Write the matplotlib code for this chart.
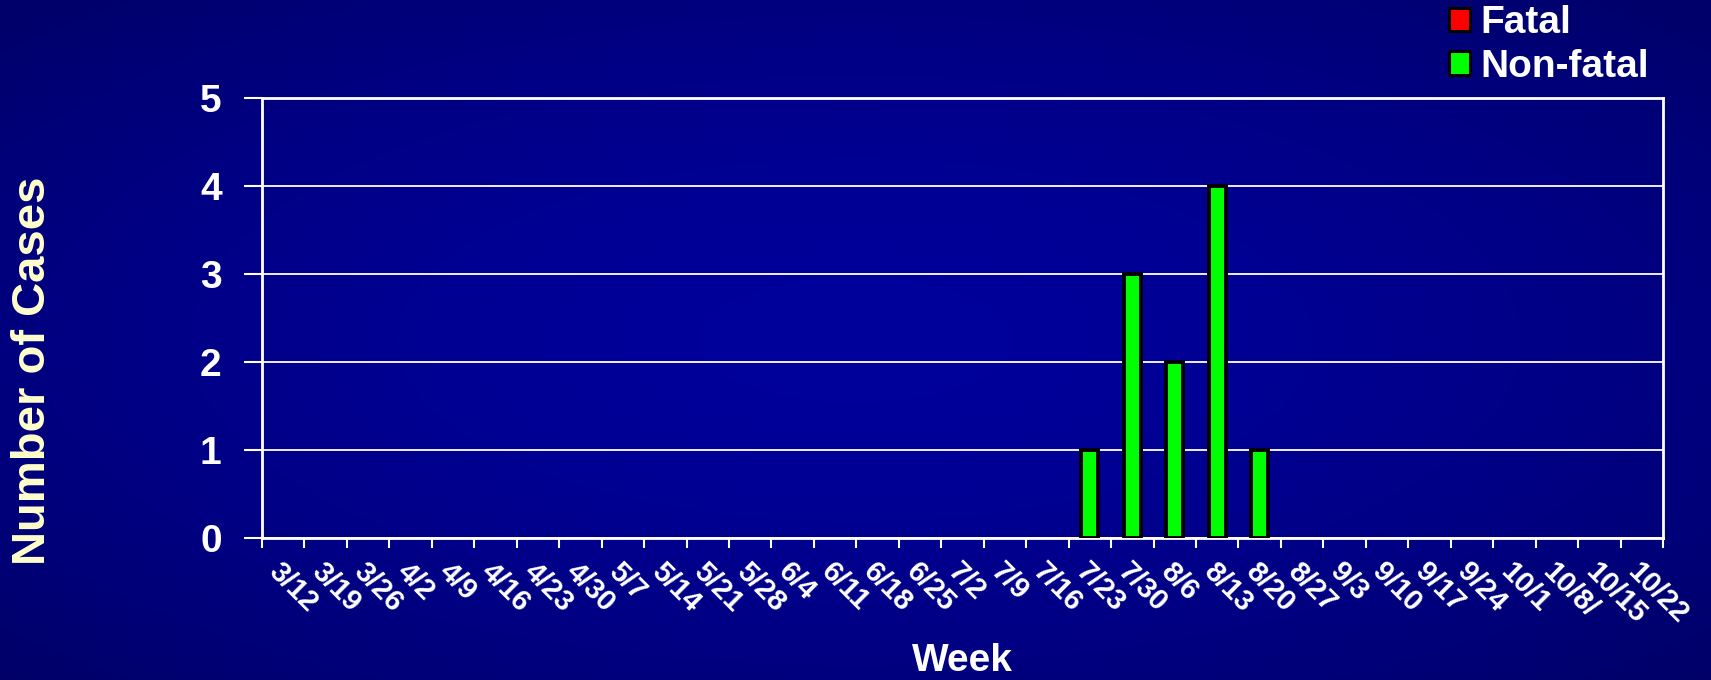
import matplotlib.pyplot as plt
import numpy as np
from matplotlib.patches import Patch

plt.rcParams['font.family'] = ['Liberation Sans', 'DejaVu Sans']
plt.rcParams['font.weight'] = 'bold'

TEXT_COLOR = "white"
YLABEL_COLOR = "#FFFFCC"
FATAL_COLOR = "#FF0000"
NONFATAL_COLOR = "#00FF00"

weeks = ["3/12", "3/19", "3/26", "4/2", "4/9", "4/16", "4/23", "4/30", "5/7",
         "5/14", "5/21", "5/28", "6/4", "6/11", "6/18", "6/25", "7/2", "7/9",
         "7/16", "7/23", "7/30", "8/6", "8/13", "8/20", "8/27", "9/3", "9/10",
         "9/17", "9/24", "10/1", "10/8/", "10/15", "10/22"]
non_fatal = [0, 0, 0, 0, 0, 0, 0, 0, 0, 0, 0, 0, 0, 0, 0, 0, 0, 0,
             0, 1, 3, 2, 4, 1, 0, 0, 0, 0, 0, 0, 0, 0, 0]
fatal = [0] * len(weeks)
y_ticks = [0, 1, 2, 3, 4, 5]


def background(fig):
    # radial blue gradient behind everything
    bg = fig.add_axes([0, 0, 1, 1], zorder=-10)
    yy, xx = np.mgrid[-1:1:340j, -1:1:860j]
    r = np.clip(np.sqrt(xx ** 2 + yy ** 2) / 1.414, 0, 1)
    blue = (0x9C - (0x9C - 0x68) * r ** 1.6) / 255.0
    img = np.zeros(r.shape + (3,))
    img[..., 2] = blue
    bg.imshow(img, aspect='auto', extent=(0, 1, 0, 1))
    bg.axis('off')


def plot():
    fig = plt.figure(figsize=(17.11, 6.8), dpi=100)
    background(fig)

    ax = fig.add_axes([262 / 1711, 1 - 538 / 680, 1401 / 1711, 440 / 680])
    ax.patch.set_alpha(0)

    x = np.arange(len(weeks))
    nf = np.array(non_fatal)
    fa = np.array(fatal)
    # empty weeks get no bar at all (no black outline on the axis)
    show = nf > 0
    ax.bar(x[show], nf[show], width=0.4, color=NONFATAL_COLOR,
           edgecolor="black", linewidth=2.8, zorder=3)
    show = fa > 0
    ax.bar(x[show], fa[show], bottom=nf[show], width=0.4, color=FATAL_COLOR,
           edgecolor="black", linewidth=2.8, zorder=3)

    ax.set_xlim(-0.5, len(weeks) - 0.5)
    ax.set_ylim(0, 5)
    ax.set_yticks(y_ticks)
    ax.set_yticklabels([str(v) for v in y_ticks], fontsize=28,
                       fontweight='bold', color=TEXT_COLOR)
    ax.yaxis.grid(True, color="white", linewidth=1.3)
    ax.set_axisbelow(True)

    ax.set_xticks(x)
    ax.set_xticklabels(weeks, rotation=-45, ha='left', va='top',
                       rotation_mode='anchor', fontsize=21,
                       fontweight='bold', color=TEXT_COLOR)
    ax.set_xticks(np.arange(len(weeks) + 1) - 0.5, minor=True)
    ax.tick_params(axis='x', which='major', length=0, pad=14)
    ax.tick_params(axis='x', which='minor', length=7, width=1.5,
                   color="white", direction='out')
    ax.tick_params(axis='y', length=13, width=1.5, color="white",
                   direction='out', pad=16)

    for side in ax.spines:
        ax.spines[side].set_color("white")
        ax.spines[side].set_linewidth(2)

    fig.text(33 / 1711, 1 - 371 / 680, "Number of Cases", rotation=90,
             fontsize=34, fontweight='bold', color=YLABEL_COLOR,
             ha='center', va='center')
    fig.text(962 / 1711, 1 - 661 / 680, "Week", fontsize=28,
             fontweight='bold', color=TEXT_COLOR, ha='center', va='center')

    handles = [Patch(facecolor=FATAL_COLOR, edgecolor="black", linewidth=2.2),
               Patch(facecolor=NONFATAL_COLOR, edgecolor="black", linewidth=2.2)]
    leg = fig.legend(handles, ["Fatal", "Non-fatal"], loc='upper left',
                     bbox_to_anchor=(1449 / 1711, 1 - 5 / 680), frameon=False,
                     fontsize=28, handlelength=0.55, handleheight=0.55,
                     handletextpad=0.25, labelspacing=0.2, borderpad=0,
                     borderaxespad=0)
    for t in leg.get_texts():
        t.set_color(TEXT_COLOR)
        t.set_fontweight('bold')

    fig.savefig("out.png", dpi=100)


if __name__ == "__main__":
    plot()
